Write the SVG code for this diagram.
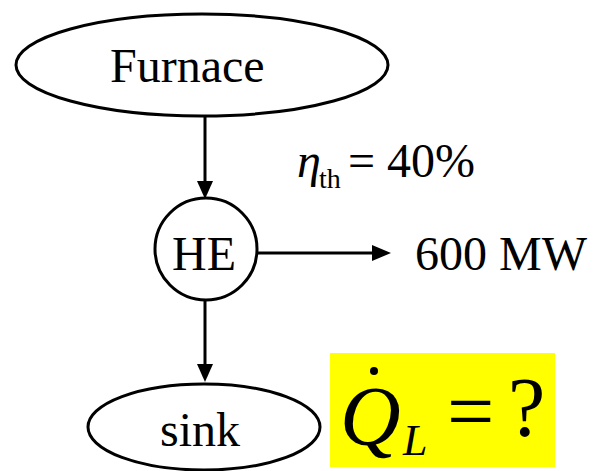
<svg xmlns="http://www.w3.org/2000/svg" width="596" height="471" viewBox="0 0 596 471">
<style>
.shape{fill:#fff;stroke:#000;stroke-width:3}
.t{font-family:"Liberation Serif","Times New Roman",serif;fill:#000}
.edge{stroke:#000;stroke-width:3;fill:none}
.head{fill:#000}
</style>
<rect width="596" height="471" fill="#fff"/>
<g id="connectors">
<line class="edge" x1="205" y1="117" x2="205" y2="182"/>
<polygon class="head" points="197,181 213,181 205,199"/>
<line class="edge" x1="258" y1="253" x2="374" y2="253"/>
<polygon class="head" points="372,245 372,261 391,253"/>
<line class="edge" x1="205" y1="300" x2="205" y2="365"/>
<polygon class="head" points="197,364 213,364 205,382"/>
</g>
<g id="furnace">
<ellipse class="shape" cx="202" cy="65" rx="186" ry="51"/>
<text class="t" x="110" y="82" font-size="48">Furnace</text>
</g>
<g id="he">
<circle class="shape" cx="206" cy="249" r="51"/>
<text class="t" x="172" y="270" font-size="48">HE</text>
</g>
<g id="sink">
<ellipse class="shape" cx="204" cy="427" rx="116" ry="43"/>
<text class="t" x="160" y="446" font-size="48">sink</text>
</g>
<g id="labels">
<text class="t" x="297" y="177" font-size="48" font-style="italic">η</text>
<text class="t" x="319" y="188" font-size="28">th</text>
<text class="t" x="348" y="177" font-size="48">= 40%</text>
<text class="t" x="415" y="270" font-size="48">600 MW</text>
</g>
<g id="question">
<rect x="330" y="353" width="225" height="114" fill="#ffff00"/>
<text class="t" x="340" y="445" font-size="84" font-style="italic">Q</text>
<circle cx="374" cy="371" r="4" fill="#000"/>
<text class="t" x="403" y="455" font-size="44" font-style="italic">L</text>
<text class="t" x="447" y="440" font-size="84">=</text>
<text class="t" x="508" y="436" font-size="84">?</text>
</g>
</svg>
